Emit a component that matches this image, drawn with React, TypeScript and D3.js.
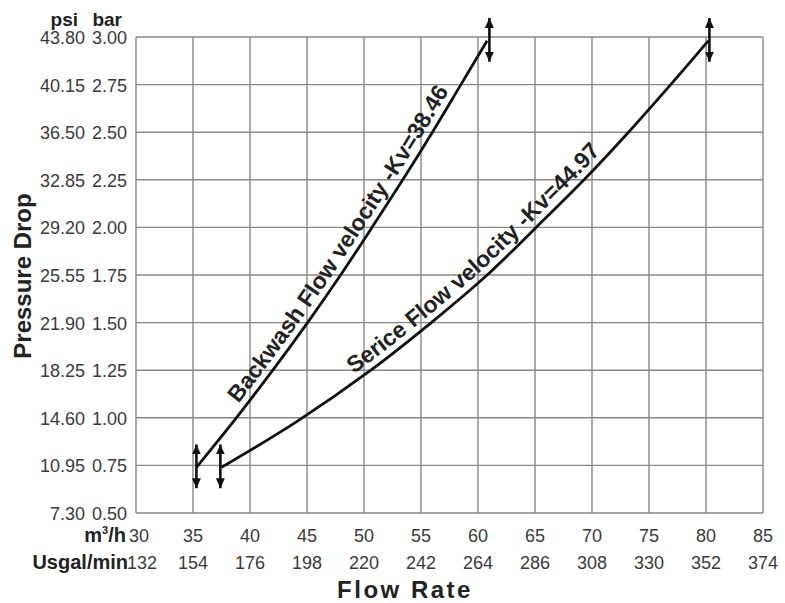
import React from 'react';
import * as d3 from 'd3';

const flowTicks = [30, 35, 40, 45, 50, 55, 60, 65, 70, 75, 80, 85];
const usgalLabels = ['132', '154', '176', '198', '220', '242', '264', '286', '308', '330', '352', '374'];
const barTicks = [0.5, 0.75, 1.0, 1.25, 1.5, 1.75, 2.0, 2.25, 2.5, 2.75, 3.0];
const barLabels = ['0.50', '0.75', '1.00', '1.25', '1.50', '1.75', '2.00', '2.25', '2.50', '2.75', '3.00'];
const psiLabels = ['7.30', '10.95', '14.60', '18.25', '21.90', '25.55', '29.20', '32.85', '36.50', '40.15', '43.80'];

const backwashFlow = [35.3, 38.8, 42.0, 45.05, 47.95, 50.7, 53.4, 56.0, 58.5, 60.8];
const backwashBar = [0.74, 1.0, 1.25, 1.5, 1.75, 2.0, 2.25, 2.5, 2.75, 2.98];
const serviceFlow = [37.5, 44.1, 50.6, 55.9, 60.8, 65.1, 69.3, 73.2, 76.9, 80.2];
const serviceBar = [0.74, 0.98, 1.25, 1.5, 1.75, 2.0, 2.25, 2.5, 2.75, 2.98];

const arrowFlow = [35.3, 37.4, 61.0, 80.3];
const arrowBar = [0.745, 0.745, 2.985, 2.985];
const arrowHalf = 0.115;

const backwashLabel = 'Backwash Flow velocity -Kv=38.46';
const serviceLabel = 'Serice Flow velocity -Kv=44.97';

const FONT = '"Liberation Sans", Arial, Helvetica, sans-serif';

export default function App() {
  const W = 785, H = 603;
  const x = d3.scaleLinear().domain([30, 85]).range([136, 763]);
  const y = d3.scaleLinear().domain([0.5, 3.0]).range([513, 37]);

  const line = d3
    .line<[number, number]>()
    .x((d) => x(d[0]))
    .y((d) => y(d[1]))
    .curve(d3.curveCatmullRom.alpha(0.5));

  const bwPts = backwashFlow.map((f, i) => [f, backwashBar[i]] as [number, number]);
  const svPts = serviceFlow.map((f, i) => [f, serviceBar[i]] as [number, number]);

  const gridColor = '#878787';

  return (
    <svg
      width={W}
      height={H}
      viewBox={`0 0 ${W} ${H}`}
      style={{ position: 'absolute', left: 0, top: 0, background: '#fff' }}
    >
      <defs>
        <marker
          id="ah"
          viewBox="0 0 10 9"
          refX={10}
          refY={4.5}
          markerWidth={10}
          markerHeight={9}
          markerUnits="userSpaceOnUse"
          orient="auto-start-reverse"
        >
          <path d="M0,0 L10,4.5 L0,9 Z" fill="#111" />
        </marker>
      </defs>
      <rect x={0} y={0} width={W} height={H} fill="#fff" />

      {/* grid */}
      {flowTicks.map((f) => (
        <line key={'v' + f} x1={x(f)} x2={x(f)} y1={y(3.0)} y2={y(0.5)} stroke={gridColor} strokeWidth={1.4} />
      ))}
      {barTicks.map((b) => (
        <line key={'h' + b} x1={x(30)} x2={x(85)} y1={y(b)} y2={y(b)} stroke={gridColor} strokeWidth={1.4} />
      ))}

      {/* y tick labels */}
      <g fontFamily={FONT} fontSize={18} fill="#3a3a3a">
        {barTicks.map((b, i) => (
          <g key={'yl' + b}>
            <text x={85} y={y(b) + 7} textAnchor="end">{psiLabels[i]}</text>
            <text x={127} y={y(b) + 7} textAnchor="end">{barLabels[i]}</text>
          </g>
        ))}
      </g>
      <g fontFamily={FONT} fontSize={19} fontWeight="bold" fill="#222">
        <text x={78} y={26} textAnchor="end">psi</text>
        <text x={122} y={26} textAnchor="end">bar</text>
      </g>

      {/* x tick labels */}
      <g fontFamily={FONT} fontSize={18} fill="#3a3a3a" textAnchor="middle">
        {flowTicks.map((f, i) => (
          <text key={'xl' + f} x={x(f) + (i === 0 ? 3 : 0)} y={542}>{f}</text>
        ))}
        {flowTicks.map((f, i) => (
          <text key={'ul' + f} x={x(f) + (i === 0 ? 6 : 0)} y={569}>{usgalLabels[i]}</text>
        ))}
      </g>
      <g fontFamily={FONT} fontSize={20} fontWeight="bold" fill="#222" textAnchor="end">
        <text x={126} y={542}>
          m<tspan fontSize={11} dy={-8}>3</tspan><tspan dy={8}>/h</tspan>
        </text>
        <text x={128} y={569}>Usgal/min</text>
      </g>

      {/* axis titles */}
      <text
        x={405}
        y={598}
        textAnchor="middle"
        fontFamily={FONT}
        fontSize={24}
        fontWeight="bold"
        letterSpacing={2.5}
        fill="#222"
      >
        Flow Rate
      </text>
      <text
        transform={`translate(31,276) rotate(-90)`}
        textAnchor="middle"
        fontFamily={FONT}
        fontSize={24}
        fontWeight="bold"
        fill="#222"
      >
        Pressure Drop
      </text>

      {/* curves */}
      <path id="bwPath" d={line(bwPts) || ''} fill="none" stroke="#111" strokeWidth={2.8} />
      <path id="svPath" d={line(svPts) || ''} fill="none" stroke="#111" strokeWidth={2.8} />

      {/* arrows */}
      {arrowFlow.map((f, i) => (
        <line
          key={'a' + i}
          x1={x(f)}
          x2={x(f)}
          y1={y(arrowBar[i] - arrowHalf)}
          y2={y(arrowBar[i] + arrowHalf)}
          stroke="#111"
          strokeWidth={2.6}
          markerStart="url(#ah)"
          markerEnd="url(#ah)"
        />
      ))}

      {/* curve labels */}
      <text fontFamily={FONT} fontSize={23} fontWeight="bold" fill="#222" dy={-7}>
        <textPath href="#bwPath" startOffset={76}>{backwashLabel}</textPath>
      </text>
      <text fontFamily={FONT} fontSize={23} fontWeight="bold" fill="#222" dy={-7}>
        <textPath href="#svPath" startOffset={162}>{serviceLabel}</textPath>
      </text>
    </svg>
  );
}
